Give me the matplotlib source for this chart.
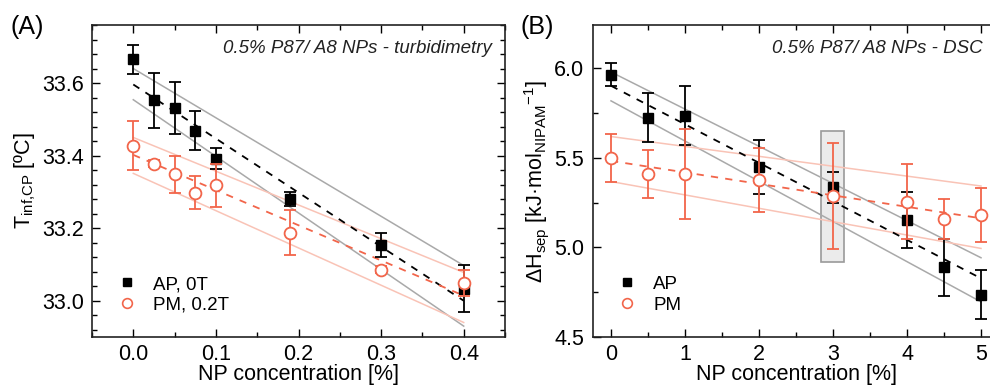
import matplotlib
matplotlib.use("Agg")
import matplotlib.pyplot as plt
from matplotlib.lines import Line2D
from matplotlib.patches import Rectangle
from matplotlib.ticker import MultipleLocator, FormatStrFormatter

plt.rcParams['font.family'] = ['Liberation Sans', 'DejaVu Sans']
plt.rcParams['mathtext.fontset'] = 'custom'
plt.rcParams['mathtext.rm'] = 'Liberation Sans'

RED = '#f2654a'
LRED = '#f9c3b6'
GRAY = '#a9a9a9'

# ---------------- Panel A data (turbidimetry) ----------------
xA = [0.0, 0.025, 0.05, 0.075, 0.1, 0.19, 0.3, 0.4]
A_AP = [33.665, 33.552, 33.531, 33.469, 33.392, 33.280, 33.154, 33.033]
A_AP_err = [0.040, 0.077, 0.071, 0.053, 0.028, 0.020, 0.033, 0.065]
A_PM = [33.427, 33.378, 33.348, 33.298, 33.318, 33.187, 33.086, 33.049]
A_PM_err = [0.068, 0.010, 0.050, 0.046, 0.059, 0.062, 0.010, 0.037]
# fit lines: values at x = 0 and x = 0.4
A_fit_x = [0.0, 0.4]
A_AP_fit = [33.596, 33.0]
A_AP_up = [33.640, 33.097]
A_AP_lo = [33.554, 32.930]
A_PM_fit = [33.402, 33.014]
A_PM_up = [33.450, 33.078]
A_PM_lo = [33.351, 32.940]

# ---------------- Panel B data (DSC) ----------------
xB = [0, 0.5, 1, 2, 3, 4, 4.5, 5]
B_AP = [5.963, 5.724, 5.735, 5.450, 5.335, 5.151, 4.888, 4.737]
B_AP_err = [0.063, 0.138, 0.167, 0.150, 0.085, 0.155, 0.157, 0.138]
B_PM = [5.497, 5.408, 5.408, 5.376, 5.287, 5.255, 5.156, 5.180]
B_PM_err = [0.134, 0.133, 0.250, 0.180, 0.297, 0.210, 0.112, 0.150]
B_fit_x = [0, 5]
B_AP_fit = [5.901, 4.827]
B_AP_up = [5.978, 4.942]
B_AP_lo = [5.817, 4.696]
B_PM_fit = [5.482, 5.162]
B_PM_up = [5.618, 5.342]
B_PM_lo = [5.367, 4.994]
# highlighted region (x range, y range)
B_box_x = [2.84, 3.15]
B_box_y = [4.92, 5.65]

fig = plt.figure(figsize=(9.9, 3.86), dpi=100)
axA = fig.add_axes([92/990, 49/386, 413/990, 312/386])
axB = fig.add_axes([592.5/990, 49/386, 407/990, 312/386])

FS = 15.5


def style(ax):
    ax.tick_params(which='both', direction='in', top=True, right=True,
                   labelsize=FS, width=1.0, pad=6)
    ax.tick_params(axis='x', which='both', pad=5)
    ax.tick_params(which='major', length=6)
    ax.tick_params(which='minor', length=3.5)
    for s in ax.spines.values():
        s.set_linewidth(1.2)
        s.set_color('#222222')


def draw(ax, x, fx, ap, ape, pm, pme, apfit, apup, aplo, pmfit, pmup, pmlo):
    ax.plot(fx, apup, color=GRAY, lw=1.1, zorder=1)
    ax.plot(fx, aplo, color=GRAY, lw=1.1, zorder=1)
    ax.plot(fx, pmup, color=LRED, lw=1.1, zorder=1)
    ax.plot(fx, pmlo, color=LRED, lw=1.1, zorder=1)
    ax.plot(fx, apfit, color='black', lw=1.3, ls=(0, (4, 4)), zorder=2)
    ax.plot(fx, pmfit, color=RED, lw=1.3, ls=(0, (4, 4)), zorder=2)
    ax.errorbar(x, ap, yerr=ape, fmt='s', color='black', ms=7.5, mfc='black',
                mec='black', capsize=4.5, elinewidth=1.3, capthick=1.3, zorder=4)
    ax.errorbar(x, pm, yerr=pme, fmt='o', color=RED, ms=8.5, mfc='white',
                mec=RED, mew=1.3, capsize=4.5, elinewidth=1.3, capthick=1.3, zorder=5)


style(axA)
draw(axA, xA, A_fit_x, A_AP, A_AP_err, A_PM, A_PM_err,
     A_AP_fit, A_AP_up, A_AP_lo, A_PM_fit, A_PM_up, A_PM_lo)
axA.set_xlim(-0.05, 0.45)
axA.set_ylim(32.9, 33.76)
axA.xaxis.set_major_locator(MultipleLocator(0.1))
axA.xaxis.set_minor_locator(MultipleLocator(0.05))
axA.yaxis.set_major_locator(MultipleLocator(0.2))
axA.yaxis.set_minor_locator(MultipleLocator(0.04))
axA.xaxis.set_major_formatter(FormatStrFormatter('%.1f'))
axA.yaxis.set_major_formatter(FormatStrFormatter('%.1f'))
axA.set_xlabel('NP concentration [%]', fontsize=FS, labelpad=-1)
axA.set_ylabel(r'T$_\mathregular{inf{,}CP}$ [ºC]', fontsize=FS, labelpad=3)
axA.text(0.968, 0.926, '0.5% P87/ A8 NPs - turbidimetry', transform=axA.transAxes,
         ha='right', va='center', fontsize=13.5, style='italic', color='#222222')

style(axB)
axB.add_patch(Rectangle((B_box_x[0], B_box_y[0]), B_box_x[1] - B_box_x[0],
                        B_box_y[1] - B_box_y[0], facecolor='#ebebeb',
                        edgecolor='#9a9a9a', lw=1.2, zorder=0.5))
draw(axB, xB, B_fit_x, B_AP, B_AP_err, B_PM, B_PM_err,
     B_AP_fit, B_AP_up, B_AP_lo, B_PM_fit, B_PM_up, B_PM_lo)
axB.set_xlim(-0.25, 5.25)
axB.set_ylim(4.5, 6.24)
axB.xaxis.set_major_locator(MultipleLocator(1))
axB.xaxis.set_minor_locator(MultipleLocator(0.5))
axB.yaxis.set_major_locator(MultipleLocator(0.5))
axB.yaxis.set_minor_locator(MultipleLocator(0.25))
axB.yaxis.set_major_formatter(FormatStrFormatter('%.1f'))
axB.set_xlabel('NP concentration [%]', fontsize=FS, labelpad=-1)
axB.set_ylabel(r'ΔH$_\mathregular{sep}$ [kJ·mol$_\mathregular{NIPAM}$$^\mathregular{-1}$]',
               fontsize=FS, labelpad=2)
axB.text(0.959, 0.926, '0.5% P87/ A8 NPs - DSC', transform=axB.transAxes,
         ha='right', va='center', fontsize=13.5, style='italic', color='#222222')

# legends
hA = [Line2D([], [], ls='none', marker='s', color='black', ms=6),
      Line2D([], [], ls='none', marker='o', mfc='white', mec=RED, mew=1.2, ms=7)]
axA.legend(hA, ['AP, 0T', 'PM, 0.2T'], loc='lower left', frameon=False,
           fontsize=13.5, handlelength=1.0, handletextpad=0.9, labelspacing=0.2,
           bbox_to_anchor=(0.02, 0.02))
axB.legend(hA, ['AP', 'PM'], loc='lower left', frameon=False,
           fontsize=13.5, handlelength=1.0, handletextpad=0.9, labelspacing=0.2,
           bbox_to_anchor=(0.02, 0.02))

fig.text(10/990, 1 - 27/386, '(A)', fontsize=18, ha='left', va='center')
fig.text(521/990, 1 - 27/386, '(B)', fontsize=18, ha='left', va='center')

fig.savefig('out.png', dpi=100)
